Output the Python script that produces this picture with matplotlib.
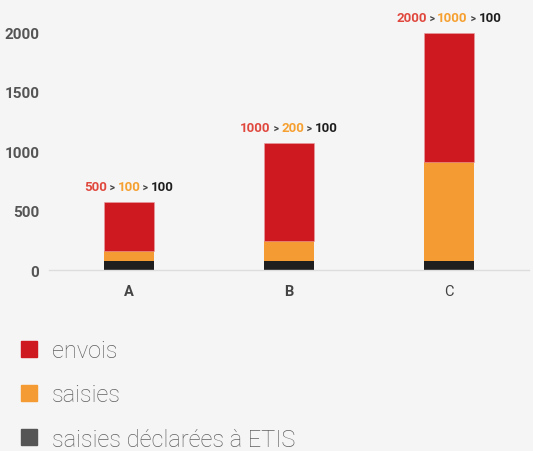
import matplotlib
matplotlib.use("Agg")
import matplotlib.pyplot as plt
from matplotlib.lines import Line2D
from matplotlib.transforms import offset_copy

plt.rcParams['font.family'] = ['Roboto', 'DejaVu Sans']

categories = ["A", "B", "C"]
etis = [75, 75, 75]
saisies = [83, 168, 832]
envois = [415, 827, 1087]
ann_envois = ["500", "1000", "2000"]
ann_saisies = ["100", "200", "1000"]
ann_etis = ["100", "100", "100"]
yticks = [0, 500, 1000, 1500, 2000]

RED = "#cf1920"
ORANGE = "#f59b33"
BLACK = "#1e1e1e"
BG = "#f5f5f5"

fig = plt.figure(figsize=(5.33, 4.52), dpi=100, facecolor=BG)
ax = fig.add_axes([0.092, 0.4004, 0.9, 0.5996], facecolor=BG)

x = range(len(categories))
w = 0.3125
ax.bar(x, etis, width=w, color=BLACK)
ax.bar(x, saisies, width=w, bottom=etis, color=ORANGE)
base2 = [a + b for a, b in zip(etis, saisies)]
ax.bar(x, envois, width=w, bottom=base2, color=RED, edgecolor="#e8a0a0", linewidth=0.4)
tops = [a + b for a, b in zip(base2, envois)]

ax.set_xlim(-0.5, 2.5)
ax.set_ylim(0, 2283)
ax.set_yticks(yticks)
ax.set_yticklabels([str(t) for t in yticks], fontweight="bold", fontsize=11, color="#555555")
ax.set_xticks(list(x))
ax.set_xticklabels(categories, fontsize=10.5, color="#444444")
for lab in ax.get_xticklabels()[:2]:
    lab.set_fontweight("bold")
ax.tick_params(length=0, pad=10)
ax.tick_params(axis="y", pad=7)
for s in ["top", "right", "left"]:
    ax.spines[s].set_visible(False)
ax.spines["bottom"].set_color("#dddddd")
ax.spines["bottom"].set_linewidth(1)

# colored "a > b > c" labels above the bars
renderer = fig.canvas.get_renderer()
for i in x:
    pieces = [(ann_envois[i], "#e0483e", 9.5), (" > ", "#444444", 7.5),
              (ann_saisies[i], "#f5a030", 9.5), (" > ", "#444444", 7.5),
              (ann_etis[i], "#1e1e1e", 9.5)]
    texts = []
    for s, c, fs in pieces:
        t = ax.text(i, tops[i], s, color=c, fontsize=fs, fontweight="bold",
                    ha="left", va="baseline")
        texts.append(t)
    widths = [t.get_window_extent(renderer).width for t in texts]
    total = sum(widths)
    cur = -total / 2
    for t, wd in zip(texts, widths):
        t.set_transform(offset_copy(ax.transData, fig=fig, x=cur, y=12, units="dots"))
        cur += wd

handles = [Line2D([], [], marker="s", linestyle="", markersize=12.2, color=c)
           for c in [RED, ORANGE, "#555555"]]
leg = fig.legend(handles, ["envois", "saisies", "saisies déclarées à ETIS"],
                 loc="upper left", bbox_to_anchor=(0.003, 0.284), frameon=False,
                 handlelength=0.9, handletextpad=0.52, labelspacing=0.9,
                 borderaxespad=0.3, prop={"size": 17, "weight": "light"})
for t in leg.get_texts():
    t.set_color("#606060")

fig.savefig("out.png", dpi=100, facecolor=BG)
